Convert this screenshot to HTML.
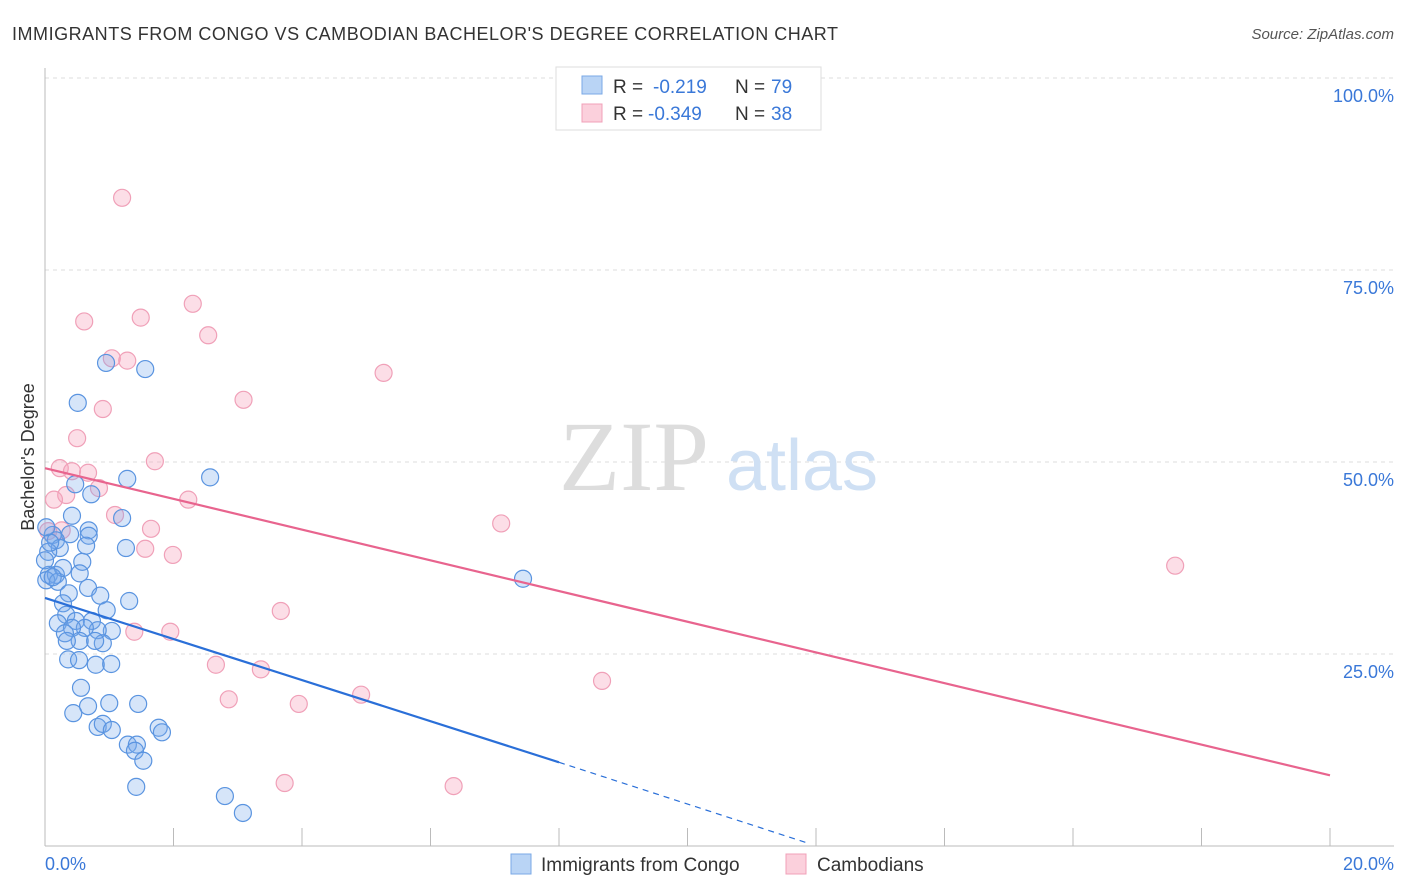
<!DOCTYPE html>
<html><head><meta charset="utf-8"><style>
body{margin:0;background:#fff;font-family:"Liberation Sans",sans-serif}
svg{display:block}
</style></head><body>
<svg width="1406" height="892">
<text x="12" y="40" font-size="18" fill="#333" textLength="826">IMMIGRANTS FROM CONGO VS CAMBODIAN BACHELOR'S DEGREE CORRELATION CHART</text>
<text x="1394" y="39" font-size="15" fill="#555" font-style="italic" text-anchor="end">Source: ZipAtlas.com</text>
<g id="grid"></g>
<text x="634" y="490" font-size="100" fill="#ddd" text-anchor="middle" font-family="Liberation Serif,serif">ZIP</text>
<text x="802" y="490" font-size="72" fill="#cfe0f4" text-anchor="middle">atlas</text>
<g id="pts"></g>
<g id="lines"></g>
<text transform="translate(34,457) rotate(-90)" font-size="18" fill="#333" text-anchor="middle">Bachelor's Degree</text>
<text x="45" y="870" font-size="18" fill="#3a78d8">0.0%</text>
<text x="1394" y="870" font-size="18" fill="#3a78d8" text-anchor="end">20.0%</text>
<g>
<rect x="556" y="67" width="265" height="63" fill="#fff" stroke="#ddd"/>
<rect x="582" y="76" width="20" height="18" fill="#b9d4f5" stroke="#7aa8e6"/>
<rect x="582" y="104" width="20" height="18" fill="#fbd0dc" stroke="#f0a0b8"/>
<text x="613" y="93" font-size="19" fill="#333">R =</text>
<text x="653" y="93" font-size="19" fill="#3a78d8">-0.219</text>
<text x="735" y="93" font-size="19" fill="#333">N =</text>
<text x="771" y="93" font-size="19" fill="#3a78d8">79</text>
<text x="613" y="120" font-size="19" fill="#333">R =</text>
<text x="648" y="120" font-size="19" fill="#3a78d8">-0.349</text>
<text x="735" y="120" font-size="19" fill="#333">N =</text>
<text x="771" y="120" font-size="19" fill="#3a78d8">38</text>
</g>
<g>
<rect x="511" y="854" width="20" height="20" fill="#b9d4f5" stroke="#7aa8e6"/>
<text x="541" y="871" font-size="19" fill="#333">Immigrants from Congo</text>
<rect x="786" y="854" width="20" height="20" fill="#fbd0dc" stroke="#f0a0b8"/>
<text x="817" y="871" font-size="19" fill="#333">Cambodians</text>
</g>
</svg>
<script>
const yTicks=[25,50,75,100];
const xTicks=[0,2,4,6,8,10,12,14,16,18,20];
const congoX=[0.95,1.56,0.51,2.57,1.28,0.47,0.72,1.20,0.42,0.68,0.12,0.39,0.68,0.17,1.26,0.64,0.23,0.05,0.58,0.06,0.17,0.54,0.02,0.20,0.28,0.67,0.37,1.31,0.86,0.96,0.28,0.33,0.20,0.48,0.73,1.04,0.82,0.62,0.42,0.31,0.54,0.90,0.78,0.34,0.36,0.53,0.79,1.03,0.56,0.67,0.44,1.00,1.45,0.82,0.90,1.04,1.29,1.43,1.40,1.53,1.77,1.82,1.42,2.80,3.08,7.44,0.00,0.08,0.12,0.02];
const congoY=[62.9,62.1,57.7,48.0,47.8,47.1,45.8,42.7,43.0,41.1,40.5,40.6,40.4,39.8,38.8,39.1,38.8,38.3,37.0,35.3,35.3,35.5,34.6,34.4,36.2,33.6,32.9,31.9,32.6,30.7,31.6,30.1,29.0,29.3,29.3,28.0,28.1,28.4,28.4,27.7,26.7,26.4,26.7,26.7,24.3,24.2,23.6,23.7,20.6,18.2,17.3,18.6,18.5,15.5,15.9,15.1,13.2,13.2,12.4,11.1,15.4,14.8,7.7,6.5,4.3,34.8,37.2,39.5,35.0,41.5];
const cambX=[1.20,2.30,0.61,1.49,2.54,1.04,1.28,5.27,0.90,3.09,0.50,1.71,0.23,0.42,0.67,0.84,0.33,0.14,2.23,1.09,7.10,1.65,0.26,1.56,1.99,0.05,3.67,1.39,1.95,2.66,3.36,2.86,3.95,4.92,8.67,3.73,6.36,17.59];
const cambY=[84.4,70.6,68.3,68.8,66.5,63.5,63.2,61.6,56.9,58.1,53.1,50.1,49.2,48.8,48.6,46.6,45.7,45.1,45.1,43.1,42.0,41.3,41.1,38.7,37.9,41.0,30.6,27.9,27.9,23.6,23.0,19.1,18.5,19.7,21.5,8.2,7.8,36.5];
const congoTrend=[32.3,10.9,0.3];
const congoTrendX=[0,8,11.9];
const cambTrend=[49.2,9.2];
const cambTrendX=[0,20];
const X0=45,X1=1330,Y0=846,Y100=78;
const sx=v=>X0+(X1-X0)*v/20, sy=v=>Y0-(Y0-Y100)*v/100;
const NS="http://www.w3.org/2000/svg";
function mk(t,a,p){const e=document.createElementNS(NS,t);for(const k in a)e.setAttribute(k,a[k]);p.appendChild(e);return e;}
const g=document.getElementById('grid');
yTicks.forEach(v=>{
 const l=mk('line',{x1:X0,x2:1394,y1:sy(v),y2:sy(v),stroke:'#ddd','stroke-dasharray':'4,4'},g);
 
 
 const t=mk('text',{x:1394,y:sy(v)+24,'font-size':18,fill:'#3a78d8','text-anchor':'end'},g);
 t.textContent=v.toFixed(1)+'%';
 
 
});
const ax=mk('line',{x1:X0,x2:X0,y1:68,y2:Y0,stroke:'#bbb'},g);


const bx=mk('line',{x1:X0,x2:1394,y1:Y0,y2:Y0,stroke:'#bbb'},g);


xTicks.forEach(v=>{
 const l=mk('line',{x1:sx(v),x2:sx(v),y1:Y0,y2:Y0-18,stroke:'#bbb'},g);
 
 
});
const p=document.getElementById('pts');
cambX.forEach((x,i)=>{
 const c=mk('circle',{cx:sx(x),cy:sy(cambY[i]),r:8.5,fill:'rgba(246,160,186,0.35)',stroke:'#f0a0b8','stroke-width':1.2},p);
 
 
});
congoX.forEach((x,i)=>{
 const c=mk('circle',{cx:sx(x),cy:sy(congoY[i]),r:8.5,fill:'rgba(120,170,235,0.3)',stroke:'#5a94e0','stroke-width':1.2},p);
 
 
});
const L=document.getElementById('lines');
const b1=mk('line',{x1:sx(congoTrendX[0]),y1:sy(congoTrend[0]),x2:sx(congoTrendX[1]),y2:sy(congoTrend[1]),stroke:'#2a6fd8','stroke-width':2.2},L);


const b2=mk('line',{x1:sx(congoTrendX[1]),y1:sy(congoTrend[1]),x2:sx(congoTrendX[2]),y2:sy(congoTrend[2]),stroke:'#2a6fd8','stroke-width':1.2,'stroke-dasharray':'6,5'},L);


const c1=mk('line',{x1:sx(cambTrendX[0]),y1:sy(cambTrend[0]),x2:sx(cambTrendX[1]),y2:sy(cambTrend[1]),stroke:'#e8648e','stroke-width':2.2},L);


</script>
</body></html>
